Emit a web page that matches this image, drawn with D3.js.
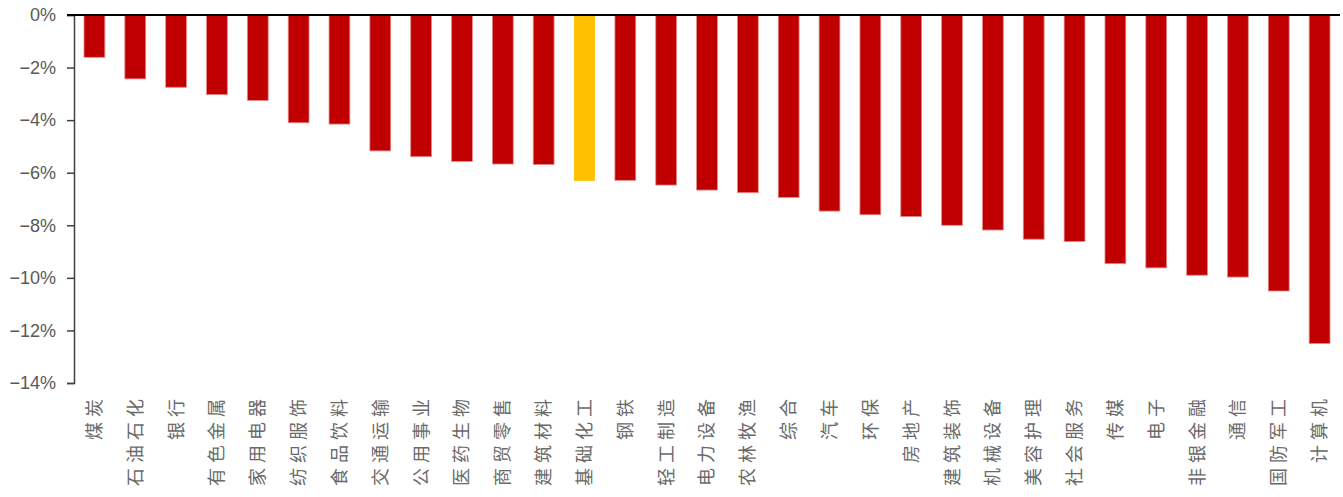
<!DOCTYPE html>
<html>
<head>
<meta charset="utf-8">
<script src="https://cdn.jsdelivr.net/npm/d3@7"></script>
<style>
	body { margin: 0; background: #fff; }
	svg { display: block; }
</style>
</head>
<body>
<div id="chart"></div>
<script>
// industry names, sorted by return
var industries = ["煤炭", "石油石化", "银行", "有色金属", "家用电器", "纺织服饰", "食品饮料", "交通运输",
	"公用事业", "医药生物", "商贸零售", "建筑材料", "基础化工", "钢铁", "轻工制造", "电力设备",
	"农林牧渔", "综合", "汽车", "环保", "房地产", "建筑装饰", "机械设备", "美容护理",
	"社会服务", "传媒", "电子", "非银金融", "通信", "国防军工", "计算机"];

// return (%)
var returns = [-1.61, -2.43, -2.75, -3.03, -3.25, -4.10, -4.15, -5.17,
	-5.39, -5.57, -5.67, -5.69, -6.31, -6.29, -6.47, -6.66,
	-6.76, -6.94, -7.46, -7.60, -7.67, -8.00, -8.18, -8.53,
	-8.62, -9.46, -9.62, -9.90, -9.97, -10.50, -12.50];

var highlighted = ["基础化工"];

var yTicks = [0, -2, -4, -6, -8, -10, -12, -14];

var width = 1343, height = 497;
var margin = {top: 15, right: 3, bottom: 114, left: 74};

var svg = d3.select("#chart").append("svg")
	.attr("width", width)
	.attr("height", height);

var x = d3.scaleBand()
	.domain(industries)
	.range([margin.left, width - margin.right])
	.paddingInner(0.49)
	.paddingOuter(0.245);

var y = d3.scaleLinear()
	.domain([-14, 0])
	.range([height - margin.bottom, margin.top]);

//Bars
svg.append("g")
	.selectAll("rect")
	.data(industries)
	.enter()
	.append("rect")
	.attr("x", function(d) { return x(d); })
	.attr("y", y(0))
	.attr("width", x.bandwidth())
	.attr("height", function(d, i) { return y(returns[i]) - y(0); })
	.attr("fill", function(d) { return highlighted.indexOf(d) >= 0 ? "#FFC000" : "#C00000"; })
	.attr("stroke", function(d) { return highlighted.indexOf(d) >= 0 ? "none" : "#E58A8A"; })
	.attr("stroke-width", 0.8);

//Y axis
var yAxis = d3.axisLeft(y)
	.tickValues(yTicks)
	.tickSize(7)
	.tickFormat(function(d) { return (d < 0 ? "\u2212" + Math.abs(d) : d) + "%"; });

var gy = svg.append("g")
	.attr("transform", "translate(" + margin.left + ",0)")
	.call(yAxis);
gy.select(".domain").attr("stroke", "#404040").attr("stroke-width", 1.5);
gy.selectAll(".tick line").attr("stroke", "#404040").attr("stroke-width", 1.5);
gy.selectAll(".tick text")
	.attr("x", -18)
	.attr("fill", "#595959")
	.style("font-family", "'Liberation Sans', Arial, sans-serif")
	.style("font-size", "18px");

//Zero line
svg.append("line")
	.attr("x1", margin.left - 7)
	.attr("x2", width - 3)
	.attr("y1", y(0))
	.attr("y2", y(0))
	.attr("stroke", "#000")
	.attr("stroke-width", 2);

//Category labels, rotated to read bottom-up
svg.append("g")
	.selectAll("text")
	.data(industries)
	.enter()
	.append("text")
	.attr("transform", function(d) {
		return "translate(" + (x(d) + x.bandwidth() / 2) + "," + 394 + ") rotate(-90)";
	})
	.attr("text-anchor", "end")
	.attr("dy", "0.36em")
	.attr("fill", "#6a6a6a")
	.style("font-family", "'Noto Sans CJK SC', sans-serif")
	.style("font-size", "18px")
	.style("letter-spacing", "5px")
	.text(function(d) { return d; });
</script>
</body>
</html>
